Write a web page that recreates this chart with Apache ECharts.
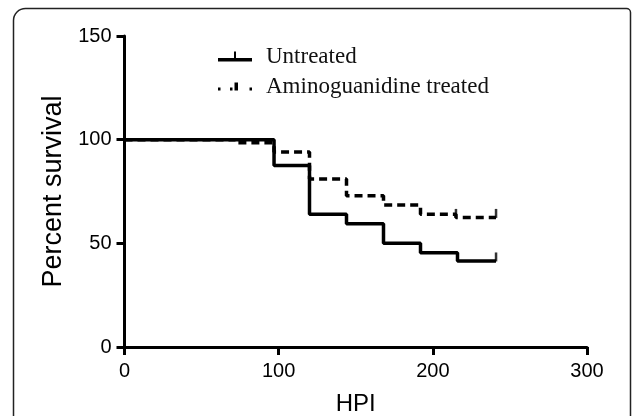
<!DOCTYPE html>
<html>
<head>
<meta charset="utf-8">
<script src="https://cdn.jsdelivr.net/npm/echarts@6/dist/echarts.min.js"></script>
<style>
html,body{margin:0;padding:0;background:#fff;}
#c{width:632px;height:416px;}
</style>
</head>
<body>
<div id="c"></div>
<script>
// Kaplan-Meier step data [HPI, percent survival]
var untreatedTimes = [0, 97, 120, 144, 168, 192, 216, 241];
var untreatedValues = [100, 87.5, 64, 59.5, 50, 45.5, 41.5, 41.5];
var treatedTimes = [0, 72, 97, 120, 144, 168, 192, 215, 241];
var treatedValues = [100, 98.5, 94, 81, 73, 68.5, 64, 62.5, 62.5];
// censored observations
var untreatedCensorTimes = [241];
var untreatedCensorValues = [41.5];
var treatedCensorTimes = [215, 241];
var treatedCensorValues = [62.5, 62.5];
var xTicks = [0, 100, 200, 300];
var yTicks = [0, 50, 100, 150];
var seriesNames = ['Untreated', 'Aminoguanidine treated'];

function zip(a, b) { return a.map(function (v, i) { return [v, b[i]]; }); }

var chart = echarts.init(document.getElementById('c'), null, {renderer: 'canvas'});
chart.setOption({
  animation: false,
  backgroundColor: '#fff',
  graphic: [{
    type: 'rect',
    shape: {x: 13.5, y: 8.5, width: 617, height: 430, r: [12, 4, 0, 0]},
    style: {fill: 'none', stroke: '#222', lineWidth: 1.5},
    silent: true
  }],
  grid: {left: 124.5, right: 45, top: 36, bottom: 69, containLabel: false, outerBoundsMode: 'none'},
  legend: {
    left: 213, top: 40, orient: 'vertical', itemGap: 7,
    itemWidth: 34, itemHeight: 10,
    textStyle: {fontFamily: 'Liberation Serif', fontSize: 23, color: '#111', padding: [0, 0, 0, 9]},
    data: [
      {name: seriesNames[0], icon: 'path://M0,6.5 L34,6.5 L34,10 L0,10 Z M16,0 L18,0 L18,7 L16,7 Z'},
      {name: seriesNames[1], icon: 'path://M0,7 L2.5,7 L2.5,10 L0,10 Z M12,7 L14.5,7 L14.5,10 L12,10 Z M16.5,2 L20,2 L20,10 L16.5,10 Z M31.5,7 L34,7 L34,10 L31.5,10 Z'}
    ]
  },
  xAxis: {
    type: 'value', min: 0, max: 300, interval: 100,
    name: 'HPI', nameLocation: 'middle', nameGap: 45,
    nameTextStyle: {fontFamily: 'Liberation Sans', fontSize: 24, color: '#000'},
    axisLine: {show: true, lineStyle: {color: '#000', width: 3}},
    axisTick: {show: true, length: 8, lineStyle: {color: '#000', width: 3}},
    axisLabel: {fontFamily: 'Liberation Sans', fontSize: 20, color: '#000', margin: 14,
      formatter: function (v) { return xTicks.indexOf(v) >= 0 ? String(v) : ''; }},
    splitLine: {show: false}
  },
  yAxis: {
    type: 'value', min: 0, max: 150, interval: 50,
    name: 'Percent survival', nameLocation: 'middle', nameGap: 54, nameRotate: 90,
    nameTextStyle: {fontFamily: 'Liberation Sans', fontSize: 27, color: '#000'},
    axisLine: {show: true, onZero: false, lineStyle: {color: '#000', width: 3}},
    axisTick: {show: true, length: 8, lineStyle: {color: '#000', width: 3}},
    axisLabel: {fontFamily: 'Liberation Sans', fontSize: 20, color: '#000', margin: 13,
      formatter: function (v) { return yTicks.indexOf(v) >= 0 ? String(v) : ''; }},
    splitLine: {show: false}
  },
  series: [
    {
      name: seriesNames[1], type: 'line', step: 'end', symbol: 'none', z: 2,
      data: zip(treatedTimes, treatedValues),
      itemStyle: {color: '#000'},
      lineStyle: {color: '#000', width: 3.5, type: [8, 5]}
    },
    {
      name: seriesNames[0], type: 'line', step: 'end', symbol: 'none', z: 3,
      data: zip(untreatedTimes, untreatedValues),
      itemStyle: {color: '#000'},
      lineStyle: {color: '#000', width: 3.5}
    },
    {
      name: seriesNames[0], type: 'scatter', symbol: 'rect', symbolSize: [2.5, 9], symbolOffset: [0, -4],
      data: zip(untreatedCensorTimes, untreatedCensorValues), itemStyle: {color: '#000'}, z: 4
    },
    {
      name: seriesNames[1], type: 'scatter', symbol: 'rect', symbolSize: [2.5, 9], symbolOffset: [0, -4],
      data: zip(treatedCensorTimes, treatedCensorValues), itemStyle: {color: '#000'}, z: 4
    }
  ]
});
</script>
</body>
</html>
